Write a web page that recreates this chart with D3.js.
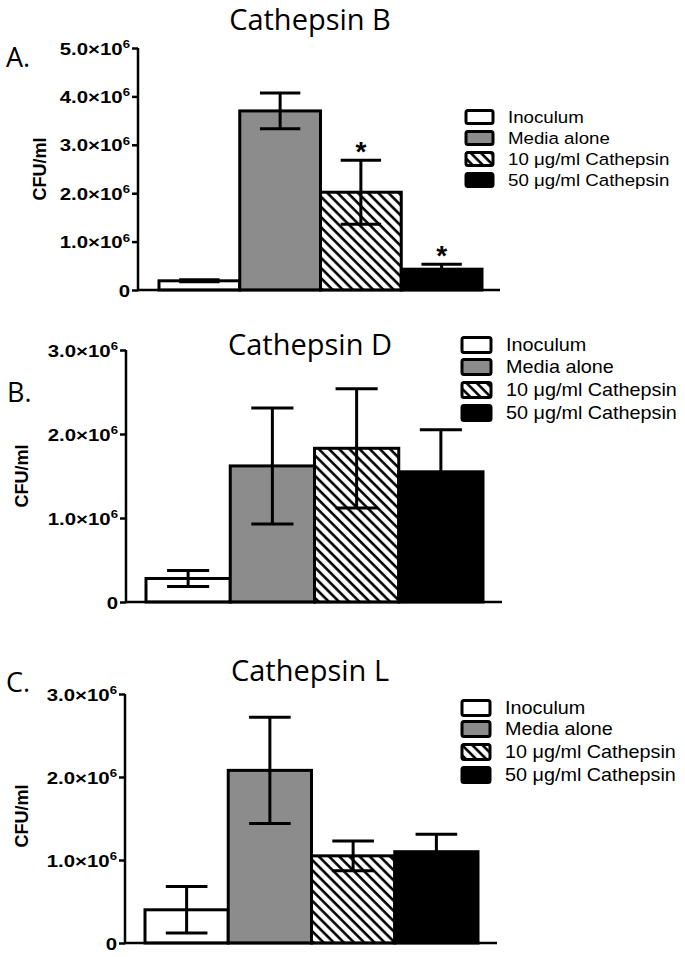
<!DOCTYPE html>
<html><head><meta charset="utf-8">
<script src="https://cdn.jsdelivr.net/npm/d3@7"></script>
<style>body{margin:0;background:#fff}svg{display:block}</style>
</head><body><svg id="c" width="685" height="957"></svg>
<script>
// ---- data ----
const categories = ["Inoculum", "Media alone", "10 μg/ml Cathepsin", "50 μg/ml Cathepsin"];
const titles = ["Cathepsin B", "Cathepsin D", "Cathepsin L"];
const panelLabels = ["A.", "B.", "C."];
const yAxisLabel = "CFU/ml";
const meansB = [0.19e6, 3.70e6, 2.02e6, 0.43e6];
const errB   = [0.02e6, 0.37e6, 0.66e6, 0.10e6];
const starsB = ["", "", "*", "*"];
const meansD = [0.28e6, 1.62e6, 1.83e6, 1.55e6];
const errD   = [0.095e6, 0.69e6, 0.71e6, 0.50e6];
const starsD = ["", "", "", ""];
const meansL = [0.40e6, 2.08e6, 1.05e6, 1.10e6];
const errL   = [0.28e6, 0.64e6, 0.18e6, 0.21e6];
const starsL = ["", "", "", ""];
const ticksA = [0, 1e6, 2e6, 3e6, 4e6, 5e6];
const ticksBC = [0, 1e6, 2e6, 3e6];

// ---- layout ----
const svg = d3.select("#c");
const fills = ["#ffffff", "#8c8c8c", "url(#hatch)", "#000000"];
const defs = svg.append("defs");
const PS = 7.2;
const pat = defs.append("pattern").attr("id", "hatch").attr("patternUnits", "userSpaceOnUse")
  .attr("width", PS).attr("height", PS).attr("patternTransform", "rotate(-45)");
pat.append("rect").attr("width", PS).attr("height", PS).attr("fill", "#fff");
pat.append("line").attr("x1", 1.5).attr("x2", 1.5).attr("y1", -1).attr("y2", PS + 1)
  .attr("stroke", "#000").attr("stroke-width", 2.6);

const panels = [
  {means: meansB, errs: errB, stars: starsB, ticks: ticksA, max: 5e6,
   ax: 138, y0: 290, yTop: 48, x0: 159, x1: 482, xEnd: 500, titleY: 30,
   lab: {x: 6, y: 67}, leg: {x: 466, w: 27, h: 13, ys: [117, 138, 159, 180], tx: 508, fs: 17}, yl: {x: 46, y: 169}},
  {means: meansD, errs: errD, stars: starsD, ticks: ticksBC, max: 3e6,
   ax: 126, y0: 602, yTop: 350, x0: 146, x1: 483, xEnd: 502, titleY: 355,
   lab: {x: 7, y: 402}, leg: {x: 462, w: 29, h: 15, ys: [345, 367, 390, 413], tx: 506, fs: 18}, yl: {x: 28, y: 476}},
  {means: meansL, errs: errL, stars: starsL, ticks: ticksBC, max: 3e6,
   ax: 125, y0: 943, yTop: 694, x0: 145, x1: 478, xEnd: 497, titleY: 681,
   lab: {x: 6, y: 692}, leg: {x: 462, w: 28, h: 15, ys: [708, 729, 752, 775], tx: 505, fs: 18}, yl: {x: 28, y: 816}}
];

const SX = 1.2; // horizontal stretch of the sans-serif text in the reference

panels.forEach((p, pi) => {
  const g = svg.append("g");
  const y = d3.scaleLinear().domain([0, p.max]).range([p.y0, p.yTop]);
  const x = d3.scaleBand().domain(categories).range([p.x0, p.x1]).padding(0);

  // title and panel label
  g.append("text").attr("x", 310).attr("y", p.titleY).attr("text-anchor", "middle")
    .attr("font-family", "Open Sans").attr("font-size", 29).attr("fill", "#000").text(titles[pi]);
  g.append("text").attr("x", p.lab.x).attr("y", p.lab.y)
    .attr("font-family", "Open Sans").attr("font-size", 27).attr("fill", "#000").text(panelLabels[pi]);

  // bars
  g.selectAll("rect.bar").data(p.means).join("rect").attr("class", "bar")
    .attr("x", (d, i) => x(categories[i]))
    .attr("y", d => y(d))
    .attr("width", x.bandwidth())
    .attr("height", d => y(0) - y(d))
    .attr("fill", (d, i) => fills[i])
    .attr("stroke", "#000").attr("stroke-width", 3);

  // error bars
  const capW = x.bandwidth() / 2;
  p.means.forEach((m, i) => {
    const cx = x(categories[i]) + x.bandwidth() / 2;
    const e = p.errs[i];
    const eg = g.append("g").attr("stroke", "#000").attr("stroke-width", 3);
    eg.append("line").attr("x1", cx).attr("x2", cx).attr("y1", y(m - e)).attr("y2", y(m + e));
    eg.append("line").attr("x1", cx - capW / 2).attr("x2", cx + capW / 2).attr("y1", y(m + e)).attr("y2", y(m + e));
    eg.append("line").attr("x1", cx - capW / 2).attr("x2", cx + capW / 2).attr("y1", y(m - e)).attr("y2", y(m - e));
    if (p.stars[i]) {
      g.append("text").attr("x", cx).attr("y", y(m + e) + 1).attr("text-anchor", "middle")
        .attr("font-family", "Liberation Sans, Arial").attr("font-weight", "bold").attr("font-size", 28)
        .text(p.stars[i]);
    }
  });

  // x axis line
  g.append("line").attr("x1", p.ax).attr("x2", p.xEnd).attr("y1", y(0)).attr("y2", y(0))
    .attr("stroke", "#000").attr("stroke-width", 2.5);

  // y axis
  const ay = g.append("g").attr("transform", `translate(${p.ax},0)`)
    .call(d3.axisLeft(y).tickValues(p.ticks).tickSize(6).tickSizeOuter(0).tickFormat(d => d));
  ay.select(".domain").attr("stroke-width", 2.5).attr("d", `M0,${y(0) + 1.2}V${y(p.max)}`);
  ay.selectAll(".tick line").attr("stroke-width", 2.5);
  ay.selectAll(".tick text").each(function (d) {
    const t = d3.select(this);
    t.text(null).attr("x", -8 / SX).attr("dy", "0.36em").attr("transform", `scale(${SX},1)`)
      .attr("font-family", "Liberation Sans, Arial").attr("font-weight", "bold").attr("font-size", 17).attr("fill", "#000");
    if (d === 0) { t.text("0"); }
    else {
      t.append("tspan").text((d / 1e6).toFixed(1) + "×10");
      t.append("tspan").attr("font-size", 11).attr("dy", "-0.6em").text("6");
    }
  });

  // y label
  g.append("text").attr("transform", `translate(${p.yl.x},${p.yl.y}) rotate(-90)`).attr("text-anchor", "middle")
    .attr("font-family", "Liberation Sans, Arial").attr("font-weight", "bold").attr("font-size", 18).text(yAxisLabel);

  // legend
  const lg = g.append("g");
  categories.forEach((c, i) => {
    const cy = p.leg.ys[i];
    lg.append("rect").attr("x", p.leg.x).attr("y", cy - p.leg.h / 2).attr("width", p.leg.w).attr("height", p.leg.h)
      .attr("rx", 2).attr("fill", fills[i]).attr("stroke", "#000").attr("stroke-width", 3);
    lg.append("text").attr("transform", `translate(${p.leg.tx},${cy + p.leg.fs * 0.36}) scale(1.1,1)`)
      .attr("font-family", "Liberation Sans, Arial").attr("font-size", p.leg.fs).attr("fill", "#000").text(c);
  });
});
</script></body></html>
